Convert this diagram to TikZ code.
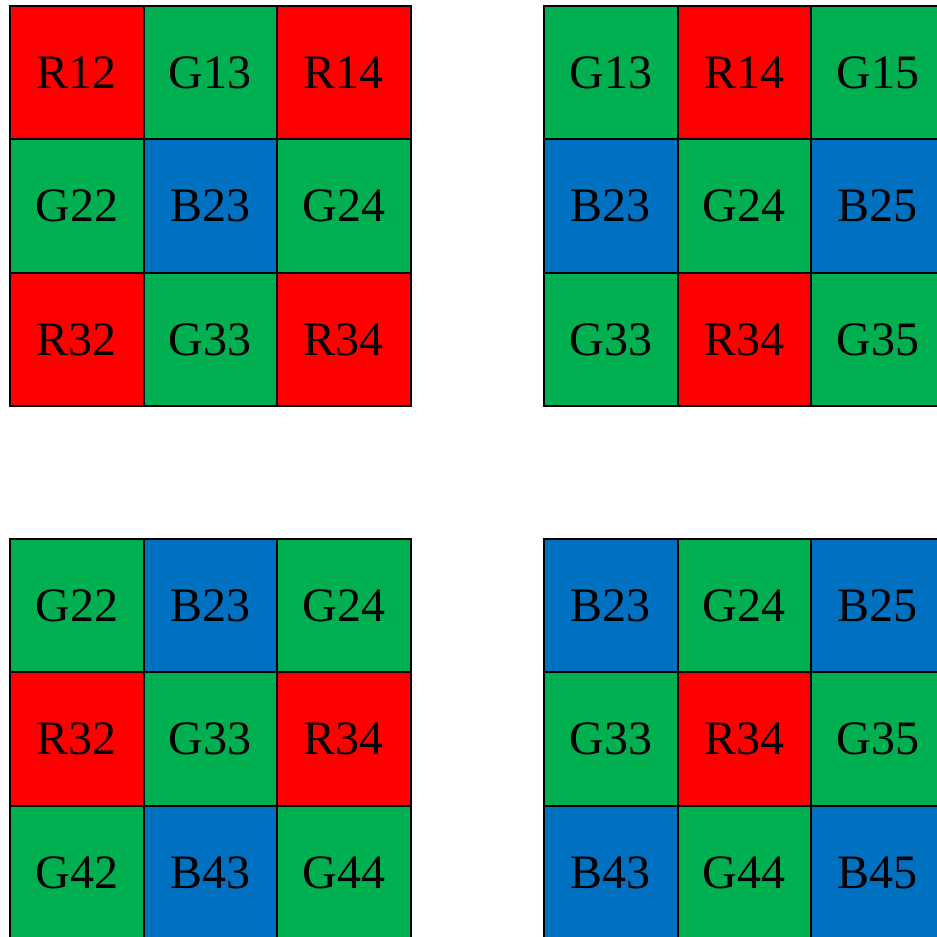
\documentclass[tikz,border=0pt]{standalone}
\usepackage{fontspec}
\setmainfont{Liberation Serif}
\definecolor{cR}{HTML}{FF0000}
\definecolor{cG}{HTML}{00B050}
\definecolor{cB}{HTML}{0070C0}
\tikzset{
  cell/.style={draw=black, line width=2pt, minimum size=133.5pt, inner sep=0pt, outer sep=0pt,
    font=\fontsize{48pt}{48pt}\selectfont, text=black},
  R/.style={cell, fill=cR},
  G/.style={cell, fill=cG},
  B/.style={cell, fill=cB}
}
\begin{document}
\begin{tikzpicture}[x=1pt,y=1pt]
\useasboundingbox (0,0) rectangle (937,937);
\begin{scope}
\clip (0,0) rectangle (937,937);
% grid origins (top-left corner, in px from top)
\foreach \gx/\gy/\gname/\cells in {
  10/6/a/{R/R12,G/G13,R/R14,G/G22,B/B23,G/G24,R/R32,G/G33,R/R34},
  544/6/b/{G/G13,R/R14,G/G15,B/B23,G/G24,B/B25,G/G33,R/R34,G/G35},
  10/539/c/{G/G22,B/B23,G/G24,R/R32,G/G33,R/R34,G/G42,B/B43,G/G44},
  544/539/d/{B/B23,G/G24,B/B25,G/G33,R/R34,G/G35,B/B43,G/G44,B/B45}} {
  \foreach \c/\t [count=\i from 0] in \cells {
    \pgfmathtruncatemacro{\col}{mod(\i,3)}
    \pgfmathtruncatemacro{\row}{int(\i/3)}
    \node[\c] (\gname\i) at ({\gx+133.5*\col+66.75},{937-(\gy+133.5*\row+66.75)}) {\t};
  }
}
\end{scope}
\end{tikzpicture}
\end{document}
